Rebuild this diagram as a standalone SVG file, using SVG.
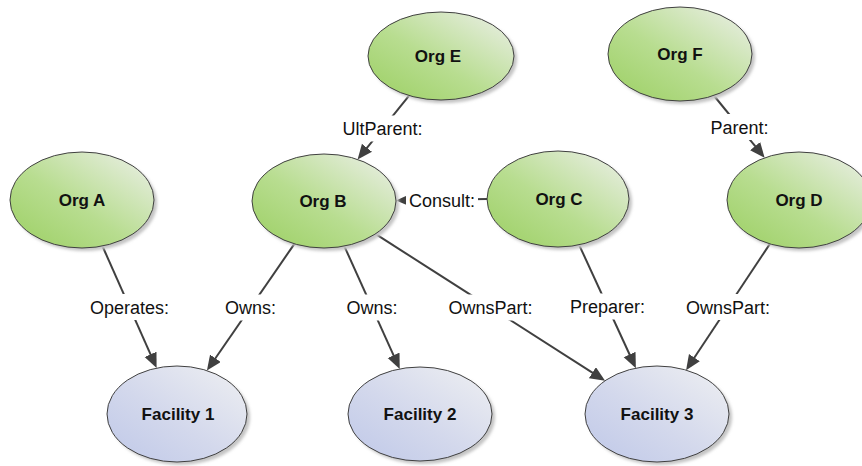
<svg xmlns="http://www.w3.org/2000/svg" width="862" height="466" viewBox="0 0 862 466">
<defs>
<linearGradient id="gGreen" x1="0" y1="1" x2="1" y2="0">
<stop offset="0" stop-color="#9bcf62"/>
<stop offset="0.45" stop-color="#b8dd90"/>
<stop offset="1" stop-color="#eef0ec"/>
</linearGradient>
<linearGradient id="gBlue" x1="0" y1="1" x2="1" y2="0">
<stop offset="0" stop-color="#bfc8e8"/>
<stop offset="0.45" stop-color="#d3d8ec"/>
<stop offset="1" stop-color="#eff0f2"/>
</linearGradient>
<filter id="blur" x="-10%" y="-10%" width="120%" height="120%">
<feGaussianBlur stdDeviation="1.5"/>
</filter>
<marker id="arr" markerUnits="userSpaceOnUse" markerWidth="16" markerHeight="14" refX="11" refY="6.5" orient="auto">
<path d="M0,0 L15,6.5 L0,13 z" fill="#404040"/>
</marker>
</defs>
<style>
.shadow{fill:#c4c4c4;filter:url(#blur)}
.org{fill:url(#gGreen);stroke:#404040;stroke-width:1}
.fac{fill:url(#gBlue);stroke:#404040;stroke-width:1}
.nt{font-family:"Liberation Sans",Arial,sans-serif;font-weight:bold;font-size:17px;fill:#111;text-anchor:middle}
.edge{stroke:#404040;stroke-width:2;fill:none}
.lbg{fill:#ffffff}
.lt{font-family:"Liberation Sans",Arial,sans-serif;font-size:18px;fill:#111;text-anchor:middle}
</style>

<g id="connectors">
<line class="edge" x1="102.4" y1="246" x2="155" y2="364.4" marker-end="url(#arr)"/>
<line class="edge" x1="294.4" y1="243.9" x2="209.2" y2="367.3" marker-end="url(#arr)"/>
<line class="edge" x1="344.3" y1="246.1" x2="398.1" y2="365.3" marker-end="url(#arr)"/>
<line class="edge" x1="375.4" y1="233.9" x2="601.7" y2="378.6" marker-end="url(#arr)"/>
<line class="edge" x1="579.1" y1="244.8" x2="634.2" y2="364.5" marker-end="url(#arr)"/>
<line class="edge" x1="769.9" y1="243.9" x2="688.3" y2="366.8" marker-end="url(#arr)"/>
<line class="edge" x1="409.1" y1="95.6" x2="360.1" y2="156.3" marker-end="url(#arr)"/>
<line class="edge" x1="713.8" y1="95.5" x2="762.1" y2="154.7" marker-end="url(#arr)"/>
<line class="edge" x1="487" y1="199" x2="400" y2="200.5" marker-end="url(#arr)"/>
<rect class="lbg" x="88" y="294" width="83" height="26"/>
<text class="lt" x="129.5" y="313.5">Operates:</text>
<rect class="lbg" x="223" y="294.5" width="55" height="26"/>
<text class="lt" x="250.5" y="314">Owns:</text>
<rect class="lbg" x="344.5" y="294.5" width="55" height="26"/>
<text class="lt" x="372" y="314">Owns:</text>
<rect class="lbg" x="446.5" y="294.5" width="88" height="26"/>
<text class="lt" x="490.5" y="314">OwnsPart:</text>
<rect class="lbg" x="568" y="293.5" width="79" height="26"/>
<text class="lt" x="607.5" y="313">Preparer:</text>
<rect class="lbg" x="684" y="294" width="88" height="26"/>
<text class="lt" x="728" y="313.5">OwnsPart:</text>
<rect class="lbg" x="340.5" y="115.5" width="84" height="26"/>
<text class="lt" x="382.5" y="135">UltParent:</text>
<rect class="lbg" x="708.5" y="114" width="62" height="26"/>
<text class="lt" x="739.5" y="133.5">Parent:</text>
<rect class="lbg" x="406" y="188" width="72" height="24"/>
<text class="lt" x="442" y="206.5">Consult:</text>
</g>

<g id="orgA"><ellipse class="shadow" cx="85" cy="203" rx="72" ry="48"/><ellipse class="org" cx="82" cy="200" rx="72" ry="48"/><text class="nt" x="82" y="206">Org A</text></g>
<g id="orgB"><ellipse class="shadow" cx="327" cy="204" rx="72" ry="47"/><ellipse class="org" cx="324" cy="201" rx="72" ry="47"/><text class="nt" x="323" y="207">Org B</text></g>
<g id="orgC"><ellipse class="shadow" cx="561" cy="202" rx="71" ry="48"/><ellipse class="org" cx="558" cy="199" rx="71" ry="48"/><text class="nt" x="559" y="205">Org C</text></g>
<g id="orgD"><ellipse class="shadow" cx="802" cy="203" rx="72" ry="48"/><ellipse class="org" cx="799" cy="200" rx="72" ry="48"/><text class="nt" x="799" y="206">Org D</text></g>
<g id="orgE"><ellipse class="shadow" cx="444" cy="59" rx="73" ry="44"/><ellipse class="org" cx="441" cy="56" rx="73" ry="44"/><text class="nt" x="438" y="62">Org E</text></g>
<g id="orgF"><ellipse class="shadow" cx="683" cy="57" rx="72" ry="47"/><ellipse class="org" cx="680" cy="54" rx="72" ry="47"/><text class="nt" x="680" y="60">Org F</text></g>
<g id="facility1"><ellipse class="shadow" cx="180" cy="417" rx="70" ry="48"/><ellipse class="fac" cx="177" cy="414" rx="70" ry="48"/><text class="nt" x="178" y="420">Facility 1</text></g>
<g id="facility2"><ellipse class="shadow" cx="423" cy="417" rx="72" ry="47"/><ellipse class="fac" cx="420" cy="414" rx="72" ry="47"/><text class="nt" x="420" y="420">Facility 2</text></g>
<g id="facility3"><ellipse class="shadow" cx="660" cy="417" rx="72" ry="48"/><ellipse class="fac" cx="657" cy="414" rx="72" ry="48"/><text class="nt" x="657" y="420">Facility 3</text></g>
</svg>
